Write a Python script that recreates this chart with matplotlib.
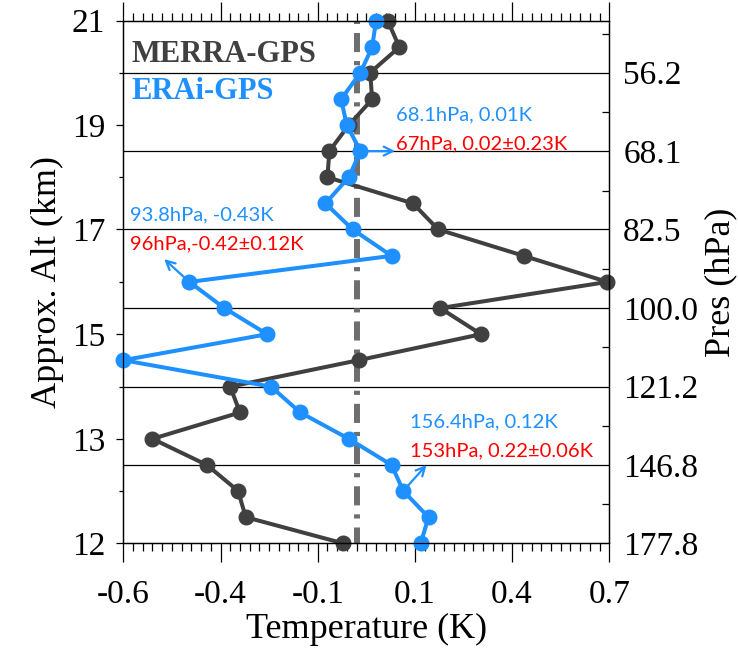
import matplotlib
matplotlib.use("Agg")
import matplotlib.pyplot as plt
import numpy as np

# GPS retrieval levels (hPa), from top to bottom
pressure = [49.5, 52.8, 56.2, 60.0, 63.9, 68.1, 72.6, 77.4, 82.5, 88.0, 93.8,
            100.0, 106.6, 113.6, 121.2, 129.1, 137.7, 146.8, 156.4, 166.8, 177.8]

# Temperature differences (K) at each level
merra_gps = [0.08, 0.11, 0.035, 0.04, -0.02, -0.07, -0.075, 0.145, 0.21, 0.43, 0.645,
             0.215, 0.32, 0.005, -0.325, -0.30, -0.525, -0.385, -0.305, -0.285, -0.035]
erai_gps = [0.05, 0.04, 0.01, -0.04, -0.025, 0.01, -0.02, -0.08, -0.01, 0.09, -0.43,
            -0.34, -0.23, -0.60, -0.22, -0.145, -0.02, 0.09, 0.12, 0.185, 0.165]

# x axis ticks
x_ticks = [-0.6, -0.35, -0.1, 0.15, 0.4, 0.65]
x_tick_labels = ["-0.6", "-0.4", "-0.1", "0.1", "0.4", "0.7"]

# left axis: approximate altitude (km)
alt_tick_p = [49.5, 63.9, 82.5, 106.6, 137.7, 177.8]
alt_tick_labels = ["21", "19", "17", "15", "13", "12"]
alt_minor_p = [56.2, 72.6, 93.8, 121.2, 156.4]

# right axis: pressure levels (hPa)
pres_levels = [56.2, 68.1, 82.5, 100.0, 121.2, 146.8, 177.8]
pres_labels = ["56.2", "68.1", "82.5", "100.0", "121.2", "146.8", "177.8"]
pres_minor = [51.1, 61.9, 75.0, 90.9, 110.0, 133.3, 161.5]

# annotated levels
notes = [
    # (level hPa, value K, arrow tip (x, p), blue text, red text, text pos (axes frac))
    (68.1, 0.01, (0.099, 68.1), "68.1hPa, 0.01K", "67hPa, 0.02\u00b10.23K", (0.561, 0.82)),
    (93.8, -0.43, (-0.495, 88.7), "93.8hPa, -0.43K", "96hPa,-0.42\u00b10.12K", (0.014, 0.628)),
    (156.4, 0.12, (0.180, 146.8), "156.4hPa, 0.12K", "153hPa, 0.22\u00b10.06K", (0.590, 0.232)),
]

BLUE = "#1E90FF"
DARK = "#404040"
SERIF = "Liberation Serif"
SANS = "Lato"

fig = plt.figure(figsize=(7.38, 6.54), dpi=100)
ax = fig.add_axes([0.1671, 0.1693, 0.6585, 0.7990])

p_bottom, p_top = 177.8, 49.5
ax.set_yscale("log")
ax.set_ylim(p_bottom, p_top)
ax.set_xlim(-0.6, 0.65)

# reference lines
for p in pres_levels[:-1]:
    ax.axhline(p, color="black", lw=0.9, zorder=1)
zero = ax.axvline(0, color="#6e6e6e", lw=4.3, zorder=1.5,
                  linestyle=(0.6, (3.2, 1.5, 0.7, 1.5)))
zero.set_dash_capstyle("butt")

ax.plot(merra_gps, pressure, color=DARK, lw=2.9, marker="o", ms=10.5,
        zorder=2, clip_on=False)
ax.plot(erai_gps, pressure, color=BLUE, lw=2.9, marker="o", ms=10.5,
        zorder=3, clip_on=False)

# x ticks
ax.set_xticks(x_ticks)
ax.set_xticklabels(x_tick_labels, family=SERIF, fontsize=24)
ax.set_xticks(np.arange(-0.6, 0.651, 0.025), minor=True)
ax.tick_params(axis="x", which="major", direction="out", length=14, width=0.9,
               top=True, bottom=True, pad=12)
ax.tick_params(axis="x", which="minor", direction="out", length=6, width=0.9,
               top=True, bottom=True)

# left ticks
ax.set_yticks(alt_tick_p)
ax.set_yticklabels(alt_tick_labels, family=SERIF, fontsize=24)
ax.set_yticks(alt_minor_p, minor=True)
ax.yaxis.set_minor_formatter(matplotlib.ticker.NullFormatter())
ax.tick_params(axis="y", which="major", direction="out", length=5, width=0.9, pad=8)
ax.tick_params(axis="y", which="minor", direction="out", length=3, width=0.9)

ax.set_xlabel("Temperature (K)", family=SERIF, fontsize=26, labelpad=2)
ax.set_ylabel("Approx. Alt (km)", family=SERIF, fontsize=26, labelpad=6)

# right axis with pressure labels
ax2 = ax.twinx()
ax2.set_yscale("log")
ax2.set_ylim(p_bottom, p_top)
ax2.set_yticks(pres_levels)
ax2.set_yticklabels(pres_labels, family=SERIF, fontsize=24)
ax2.set_yticks(pres_minor, minor=True)
ax2.yaxis.set_minor_formatter(matplotlib.ticker.NullFormatter())
ax2.tick_params(axis="y", which="major", direction="in", length=0, pad=10)
ax2.tick_params(axis="y", which="minor", direction="in", length=5, width=0.9)
ax2.set_ylabel("Pres (hPa)", family=SERIF, fontsize=26, labelpad=4)

for a in (ax, ax2):
    for s in a.spines.values():
        s.set_linewidth(0.9)

# series names
ax.text(0.017, 0.936, "MERRA-GPS", transform=ax.transAxes, family=SERIF,
        fontsize=22, fontweight="bold", color=DARK, va="center", ha="left")
ax.text(0.017, 0.864, "ERAi-GPS", transform=ax.transAxes, family=SERIF,
        fontsize=22, fontweight="bold", color=BLUE, va="center", ha="left")

# level annotations
for p, v, tip, blue_txt, red_txt, (tx, ty) in notes:
    ax.annotate("", xy=tip, xytext=(v, p), zorder=4,
                arrowprops=dict(arrowstyle="->", color=BLUE, lw=1.6,
                                shrinkA=4, shrinkB=0, mutation_scale=16))
    ax.text(tx, ty, blue_txt, transform=ax.transAxes, family=SANS,
            fontsize=14.5, color=BLUE, va="center", ha="left")
    ax.text(tx, ty - 0.055, red_txt, transform=ax.transAxes, family=SANS,
            fontsize=14.5, color="red", va="center", ha="left")

fig.savefig("out.png", dpi=100)
